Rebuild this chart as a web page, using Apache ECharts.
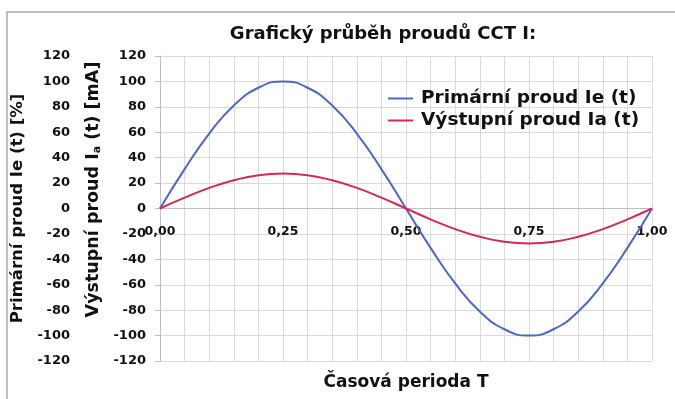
<!DOCTYPE html>
<html>
<head>
<meta charset="utf-8">
<script src="https://cdn.jsdelivr.net/npm/echarts@6/dist/echarts.min.js"></script>
<style>
  html, body { margin: 0; padding: 0; background: #ffffff; }
  #chart { width: 675px; height: 399px; }
</style>
</head>
<body>
<div id="chart"></div>
<script>
// Time within one period T (fraction of the period)
const timeT = [0, 0.05, 0.10, 0.15, 0.20, 0.25, 0.30, 0.35, 0.40, 0.45, 0.50,
               0.55, 0.60, 0.65, 0.70, 0.75, 0.80, 0.85, 0.90, 0.95, 1.00];
// Primary current Ie(t) in percent
const primaryIe = [0, 31, 59, 81, 95, 100, 95, 81, 59, 31, 0,
                   -31, -59, -81, -95, -100, -95, -81, -59, -31, 0];
// Output current Ia(t) in mA
const outputIa = [0, 8.5, 16.2, 22.2, 26.2, 27.5, 26.2, 22.2, 16.2, 8.5, 0,
                  -8.5, -16.2, -22.2, -26.2, -27.5, -26.2, -22.2, -16.2, -8.5, 0];
// Labelled positions on the time axis
const timeTicks = [0, 0.25, 0.5, 0.75, 1.0];

const FONT = 'DejaVu Sans';
const GRID_COLOR = '#d9d9d9';
const BLUE = '#4f67c0';
const RED = '#d42a52';

const zip = (xs, ys) => xs.map((x, i) => [x, ys[i]]);

const chart = echarts.init(document.getElementById('chart'), null, { renderer: 'canvas' });

// Plot box: left 160, top 56, right edge 652, bottom edge 361 -> zero line at 208.5
const PLOT_TOP = 56, PLOT_BOTTOM = 38;
const zeroOffset = -((399 - PLOT_TOP - PLOT_BOTTOM) / 2);

chart.setOption({
  backgroundColor: '#ffffff',
  animation: false,
  textStyle: { fontFamily: FONT },
  title: {
    text: 'Grafický průběh proudů CCT I:',
    left: 378, top: 20, textAlign: 'center',
    textStyle: { fontFamily: FONT, fontSize: 18, fontWeight: 'bold', color: '#111' }
  },
  legend: {
    orient: 'vertical',
    left: 383, top: 84,
    itemWidth: 25, itemHeight: 2, itemGap: 3,
    icon: 'rect',
    textStyle: { fontFamily: FONT, fontSize: 18.5, lineHeight: 19, fontWeight: 'bold', color: '#111', padding: [0, 0, 0, 3] },
    data: ['Primární proud Ie (t)', 'Výstupní proud Ia (t)']
  },
  graphic: [{
    type: 'rect', silent: true, z: -1,
    shape: { x: 7, y: 12, width: 720, height: 420 },
    style: { fill: 'none', stroke: '#a9a9a9', lineWidth: 1.5 }
  }],
  grid: { left: 160, right: 23, top: PLOT_TOP, bottom: PLOT_BOTTOM, containLabel: false, outerBoundsMode: 'none' },
  xAxis: {
    type: 'value', min: 0, max: 1, interval: 0.05,
    position: 'bottom', offset: zeroOffset,
    name: 'Časová perioda T',
    nameLocation: 'middle', nameGap: 166,
    nameTextStyle: { fontFamily: FONT, fontSize: 17, fontWeight: 'bold', color: '#111' },
    axisLine: { onZero: false, lineStyle: { color: '#bfbfbf' } },
    axisTick: { show: false },
    axisLabel: {
      margin: 17, fontFamily: FONT, fontSize: 12.5, fontWeight: 'bold', color: '#111',
      showMinLabel: true, showMaxLabel: true, hideOverlap: false,
      formatter: v => timeTicks.some(t => Math.abs(t - v) < 1e-6) ? v.toFixed(2).replace('.', ',') : ''
    },
    splitLine: { show: true, lineStyle: { color: GRID_COLOR, width: 1 } }
  },
  yAxis: [{
    type: 'value', min: -120, max: 120, interval: 20,
    position: 'left',
    name: 'Výstupní proud I{sub|a} (t) [mA]',
    nameLocation: 'middle', nameGap: 52, nameRotate: 90,
    nameTextStyle: {
      fontFamily: FONT, fontSize: 17.5, fontWeight: 'bold', color: '#111',
      padding: [0, 0, 0, 38],
      rich: { sub: { fontFamily: FONT, fontSize: 11, fontWeight: 'bold', color: '#111', verticalAlign: 'bottom', padding: [7, 0, 0, 0] } }
    },
    axisLine: { show: true, onZero: false, lineStyle: { color: '#bfbfbf' } },
    axisTick: { show: true, length: 5, lineStyle: { color: '#bfbfbf' } },
    axisLabel: { margin: 14, fontFamily: FONT, fontSize: 13, fontWeight: 'bold', color: '#111', showMinLabel: true, showMaxLabel: true },
    splitLine: { show: true, lineStyle: { color: GRID_COLOR, width: 1 } }
  }, {
    type: 'value', min: -120, max: 120, interval: 20,
    position: 'left', offset: 80,
    name: 'Primární proud Ie (t) [%]',
    nameLocation: 'middle', nameGap: 50, nameRotate: 90,
    nameTextStyle: { fontFamily: FONT, fontSize: 16.5, fontWeight: 'bold', color: '#111' },
    axisLine: { show: false, onZero: false },
    axisTick: { show: false },
    axisLabel: { margin: 10, fontFamily: FONT, fontSize: 13, fontWeight: 'bold', color: '#111', showMinLabel: true, showMaxLabel: true },
    splitLine: { show: false }
  }],
  series: [{
    name: 'Primární proud Ie (t)',
    type: 'line', yAxisIndex: 0,
    data: zip(timeT, primaryIe),
    smooth: 0.5, showSymbol: false,
    lineStyle: { color: BLUE, width: 2 },
    itemStyle: { color: BLUE }
  }, {
    name: 'Výstupní proud Ia (t)',
    type: 'line', yAxisIndex: 0,
    data: zip(timeT, outputIa),
    smooth: 0.5, showSymbol: false,
    lineStyle: { color: RED, width: 2 },
    itemStyle: { color: RED }
  }]
});
</script>
</body>
</html>
